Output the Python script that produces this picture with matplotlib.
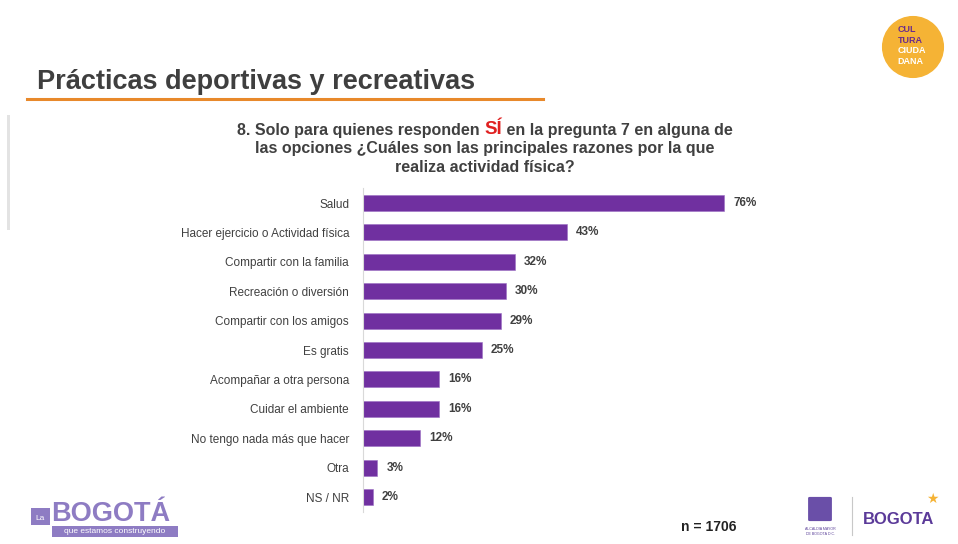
import matplotlib.pyplot as plt
from matplotlib.patches import Circle, Rectangle, FancyBboxPatch
import numpy as np

plt.rcParams['font.family'] = ['Liberation Sans', 'DejaVu Sans']

# --- Data ---
categories = ['Salud', 'Hacer ejercicio o Actividad física', 'Compartir con la familia',
              'Recreación o diversión', 'Compartir con los amigos', 'Es gratis',
              'Acompañar a otra persona', 'Cuidar el ambiente',
              'No tengo nada más que hacer', 'Otra', 'NS / NR']
values = [76, 43, 32, 30, 29, 25, 16, 16, 12, 3, 2]
value_labels = ['76%', '43%', '32%', '30%', '29%', '25%', '16%', '16%', '12%', '3%', '2%']
sample_text = 'n = 1706'

W, H = 958, 544
BAR = '#7030A0'
GRAY = '#404040'


def px(x, y):
    # pixel position (from top-left) -> figure fraction
    return x / W, 1 - y / H


fig = plt.figure(figsize=(W / 100, H / 100), dpi=100)
fig.patch.set_facecolor('white')

# --- Bar chart ---
ax = fig.add_axes([363 / W, 1 - 511.7 / H, 380 / W, 323.4 / H])
y = np.arange(len(categories))
ax.barh(y, values, height=0.55, color=BAR, edgecolor='#9b6fc4', linewidth=0.4)
ax.set_xlim(0, 80)
ax.set_ylim(len(categories) - 0.5, -0.5)
ax.set_yticks(y)
ax.set_yticklabels(categories, fontsize=8.5, color=GRAY)
ax.tick_params(axis='y', length=0, pad=10)
ax.set_xticks([])
for s in ['top', 'right', 'bottom']:
    ax.spines[s].set_visible(False)
ax.spines['left'].set_color('#d9d9d9')
ax.spines['left'].set_linewidth(0.8)
for yi, v, lab in zip(y, values, value_labels):
    ax.text(v + 1.9, yi, lab, va='center', ha='left', fontsize=8.5,
            fontweight='bold', color=GRAY, clip_on=False)

# --- Page title and underline ---
fig.text(*px(37, 82), 'Prácticas deportivas y recreativas', fontsize=19.5,
         fontweight='bold', color='#3f3f3f', ha='left', va='center')
fig.add_artist(plt.Line2D([27 / W, 543 / W], [1 - 99 / H, 1 - 99 / H],
                          color='#E8892B', linewidth=2.2, transform=fig.transFigure))

# --- Question text (line 1 has the red "SÍ") ---
renderer = fig.canvas.get_renderer()
qsize = 11.5
parts = [('8. Solo para quienes responden ', GRAY, qsize),
         ('SÍ', '#E02020', qsize + 2),
         (' en la pregunta 7 en alguna de', GRAY, qsize)]
texts = []
for txt, col, sz in parts:
    t = fig.text(0, 1 - 130 / H, txt, fontsize=sz, fontweight='bold', color=col,
                 ha='left', va='center')
    texts.append(t)
widths = [t.get_window_extent(renderer).width for t in texts]
x0 = 485 - sum(widths) / 2
for t, w in zip(texts, widths):
    t.set_x(x0 / W)
    x0 += w
fig.text(*px(485, 149), 'las opciones ¿Cuáles son las principales razones por la que',
         fontsize=qsize, fontweight='bold', color=GRAY, ha='center', va='center')
fig.text(*px(485, 168), 'realiza actividad física?', fontsize=qsize,
         fontweight='bold', color=GRAY, ha='center', va='center')

# --- Side strip on the left edge ---
fig.add_artist(Rectangle(px(7, 230), 3 / W, 115 / H, transform=fig.transFigure,
                         facecolor='#e3e3e3', edgecolor='none'))

# --- "Cultura Ciudadana" badge ---
badge = fig.add_axes([880 / W, 1 - 80 / H, 66 / W, 66 / H])
badge.set_xlim(0, 1)
badge.set_ylim(0, 1)
badge.set_aspect('equal')
badge.axis('off')
badge.add_patch(Circle((0.5, 0.5), 0.46, color='#F5B335'))
for i, (word, col) in enumerate([('CUL', '#6a2c8c'), ('TURA', '#6a2c8c'),
                                  ('CIUDA', 'white'), ('DANA', 'white')]):
    badge.text(0.27, 0.76 - i * 0.16, word, fontsize=6.5, fontweight='bold',
               color=col, ha='left', va='center')

# --- Sample size ---
fig.text(*px(681, 527), sample_text, fontsize=10, fontweight='bold',
         color='#222222', ha='left', va='center')

# --- Bottom-left "La BOGOTÁ que estamos construyendo" logo ---
LOGO = '#8E7CC3'
fig.add_artist(Rectangle(px(31, 525), 19 / W, 17 / H, transform=fig.transFigure,
                         facecolor=LOGO, edgecolor='none'))
fig.text(*px(40, 518), 'La', fontsize=6, color='white', ha='center', va='center')
fig.text(*px(51, 514), 'BOGOTÁ', fontsize=19.5, fontweight='bold', color=LOGO,
         ha='left', va='center')
fig.add_artist(Rectangle(px(52, 537), 126 / W, 11 / H, transform=fig.transFigure,
                         facecolor=LOGO, edgecolor='none'))
fig.text(*px(115, 531.5), 'que estamos construyendo', fontsize=6, color='white',
         ha='center', va='center')

# --- Bottom-right Alcaldía crest and BOGOTÁ mark ---
fig.add_artist(FancyBboxPatch(px(810, 520), 20 / W, 22 / H, transform=fig.transFigure,
                              boxstyle='round,pad=0.002', facecolor='#6a4fa8',
                              edgecolor='none'))
fig.text(*px(820, 529), 'ALCALDÍA MAYOR', fontsize=2.6, color='#5a3f98',
         ha='center', va='center')
fig.text(*px(820, 534), 'DE BOGOTÁ D.C.', fontsize=2.6, color='#5a3f98',
         ha='center', va='center')
fig.add_artist(plt.Line2D([852 / W, 852 / W], [1 - 535 / H, 1 - 497 / H],
                          color='#c8c8c8', linewidth=0.8, transform=fig.transFigure))
fig.text(*px(863, 520), 'BOGOTA', fontsize=12, fontweight='bold', color='#5b3a99',
         ha='left', va='center')
fig.text(*px(932, 499), '★', fontsize=10, color='#F5B335', ha='center', va='center',
         family=['DejaVu Sans'])

fig.savefig('out.png', dpi=100)
